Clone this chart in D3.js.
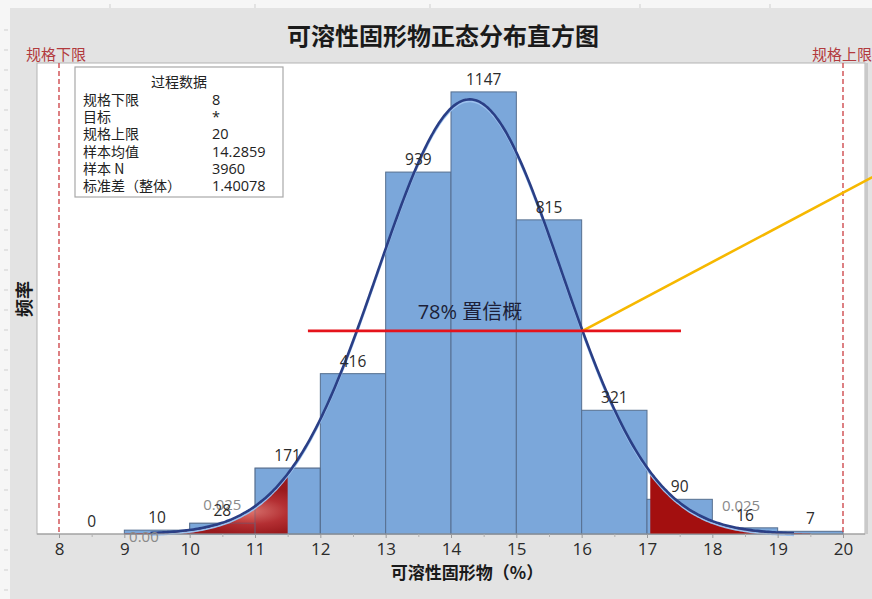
<!DOCTYPE html>
<html>
<head>
<meta charset="utf-8">
<script src="https://cdn.jsdelivr.net/npm/d3@7"></script>
<style>
  html, body { margin: 0; padding: 0; background: #f6f6f6; }
  svg { display: block; font-family: "Open Sans", "Noto Sans CJK SC", sans-serif; }
</style>
</head>
<body>
<svg id="chart" width="872" height="599"></svg>
<script>
// Histogram bins (lower edge, width 1) and their counts
const binStarts = [8, 9, 10, 11, 12, 13, 14, 15, 16, 17, 18, 19];
const counts    = [0, 10, 28, 171, 416, 939, 1147, 815, 321, 90, 16, 7];
const xTicks    = [8, 9, 10, 11, 12, 13, 14, 15, 16, 17, 18, 19, 20];

// Process data summary
const statLabels = ["规格下限", "目标", "规格上限", "样本均值", "样本 N", "标准差（整体）"];
const statValues = ["8", "*", "20", "14.2859", "3960", "1.40078"];

// Spec limits and fitted normal parameters
const specLimits = [8, 20];
const specNames  = ["规格下限", "规格上限"];
const mean = 14.2859, sd = 1.40078, sampleN = 3960, binWidth = 1;

// Tail regions shaded red, fitted curve extent
const leftTail  = [9.0, 11.5];
const rightTail = [17.05, 19.5];
const curveRange = [9.4, 19.25];

// Confidence band marker
const bandLevel = 527;            // count level of the horizontal marker
const bandExtent = [11.81, 17.52];
const bandText = "78% 置信概";
const pointerEnd = [20.45, 926];  // end of the yellow pointer line

// Small tail probability labels (x value, lift above baseline in px)
const tailNotes = [
  { x: 10.5,  lift: 24, text: "0.025" },
  { x: 9.3,   lift: -8, text: "0.00" },
  { x: 18.44, lift: 23, text: "0.025" }
];

const svg = d3.select("#chart");
const W = 872, H = 599;
const plot = { left: 37, top: 63, right: 865, bottom: 534 };

const x = d3.scaleLinear().domain([8, 20]).range([59, 843]);
const y = d3.scaleLinear().domain([0, 1222]).range([plot.bottom, plot.top]);

// Backdrop panels
svg.append("rect").attr("x", 10).attr("y", 8).attr("width", W - 10).attr("height", H - 8).attr("fill", "#e3e3e3");
svg.append("g").selectAll("line").data(d3.range(30, H, 20)).join("line")
  .attr("x1", 4).attr("x2", 8).attr("y1", d => d).attr("y2", d => d)
  .attr("stroke", "#cfcfcf");
svg.append("g").selectAll("line").data([110, 255, 430, 640, 770]).join("line")
  .attr("x1", d => d).attr("x2", d => d).attr("y1", 4).attr("y2", 8)
  .attr("stroke", "#cfcfcf");

svg.append("rect")
  .attr("x", plot.left).attr("y", plot.top)
  .attr("width", plot.right - plot.left).attr("height", plot.bottom - plot.top)
  .attr("fill", "#ffffff").attr("stroke", "#b4b4b4").attr("stroke-width", 1);
svg.append("line").attr("x1", plot.right + 1.5).attr("x2", plot.right + 1.5)
  .attr("y1", plot.top).attr("y2", plot.bottom).attr("stroke", "#c9c9c9").attr("stroke-width", 3);

// Title
svg.append("text").attr("x", 443).attr("y", 45).attr("text-anchor", "middle")
  .attr("font-family", "Noto Sans CJK SC").attr("font-weight", "bold")
  .attr("font-size", 24).attr("fill", "#1a1a1a").text("可溶性固形物正态分布直方图");

// Bars
const bars = binStarts.map((s, i) => ({ x0: s, x1: s + binWidth, n: counts[i] }));
svg.append("g").selectAll("rect").data(bars.filter(d => d.n > 0)).join("rect")
  .attr("x", d => x(d.x0)).attr("width", d => x(d.x1) - x(d.x0))
  .attr("y", d => y(d.n)).attr("height", d => y(0) - y(d.n))
  .attr("fill", "#7ba7da").attr("stroke", "#566f8f").attr("stroke-width", 1);

// Normal curve scaled to counts
const scaleK = sampleN * binWidth / (sd * Math.sqrt(2 * Math.PI));
const pdf = v => scaleK * Math.exp(-0.5 * ((v - mean) / sd) ** 2);
const sample = (a, b, n) => d3.range(n + 1).map(i => a + (b - a) * i / n);

// Tail shading
const defs = svg.append("defs");
const grad = defs.append("radialGradient").attr("id", "leftTailFill")
  .attr("cx", "0.78").attr("cy", "0.62").attr("r", "0.4");
grad.append("stop").attr("offset", "0%").attr("stop-color", "#dc6a62");
grad.append("stop").attr("offset", "55%").attr("stop-color", "#b82626");
grad.append("stop").attr("offset", "100%").attr("stop-color", "#9c0f0f");

const area = d3.area().x(d => x(d)).y0(y(0)).y1(d => y(pdf(d))).curve(d3.curveBasis);
svg.append("path").datum(sample(leftTail[0], leftTail[1], 80))
  .attr("d", area).attr("fill", "url(#leftTailFill)").attr("opacity", 0.93);
svg.append("path").datum(sample(rightTail[0], rightTail[1], 80))
  .attr("d", area).attr("fill", "#a30f0f");

// Faint bar outlines over the shading
svg.append("g").selectAll("rect").data(bars.filter(d => d.x0 >= 10 && d.x0 <= 11)).join("rect")
  .attr("x", d => x(d.x0)).attr("width", d => x(d.x1) - x(d.x0))
  .attr("y", d => y(d.n)).attr("height", d => y(0) - y(d.n))
  .attr("fill", "none").attr("stroke", "#566f8f").attr("stroke-opacity", 0.45);

const line = d3.line().x(d => x(d)).y(d => y(pdf(d))).curve(d3.curveBasis);
const curvePts = sample(curveRange[0], curveRange[1], 300);
svg.append("path").datum(curvePts).attr("d", line)
  .attr("transform", "translate(0,2)")
  .attr("fill", "none").attr("stroke", "#9cc1ee").attr("stroke-width", 2);
svg.append("path").datum(curvePts).attr("d", line)
  .attr("fill", "none").attr("stroke", "#2a3f86").attr("stroke-width", 2.6);

// Spec limit lines
svg.append("g").selectAll("line").data(specLimits).join("line")
  .attr("x1", d => x(d)).attr("x2", d => x(d))
  .attr("y1", plot.top).attr("y2", plot.bottom)
  .attr("stroke", "#cf4a4f").attr("stroke-width", 1.4).attr("stroke-dasharray", "5,3");
svg.append("g").selectAll("text").data(specLimits).join("text")
  .attr("x", (d, i) => x(d) + (i === 0 ? -3 : -1)).attr("y", 60)
  .attr("text-anchor", "middle").attr("font-family", "Noto Sans CJK SC")
  .attr("font-size", 15).attr("fill", "#b23a3d")
  .text((d, i) => specNames[i]);

// Baseline and axis
svg.append("line").attr("x1", plot.left).attr("x2", plot.right)
  .attr("y1", plot.bottom).attr("y2", plot.bottom).attr("stroke", "#9a9a9a");
const xAxis = d3.axisBottom(x).tickValues(xTicks).tickFormat(d3.format("d"))
  .tickSize(4).tickPadding(5).tickSizeOuter(0);
const gx = svg.append("g").attr("transform", `translate(0,${plot.bottom})`).call(xAxis);
gx.select(".domain").remove();
gx.selectAll(".tick line").attr("stroke", "#9a9a9a");
gx.selectAll(".tick text").attr("font-size", 17).attr("fill", "#2b2b2b")
  .attr("font-family", "Open Sans");
svg.append("g").attr("transform", `translate(0,${plot.bottom})`)
  .call(d3.axisBottom(x).tickValues(xTicks.slice(0, -1).map(d => d + 0.5)).tickSize(3).tickFormat(""))
  .call(g => g.select(".domain").remove())
  .selectAll(".tick line").attr("stroke", "#b0b0b0");

// Axis titles
svg.append("text").attr("x", 467).attr("y", 579).attr("text-anchor", "middle")
  .attr("font-family", "Noto Sans CJK SC").attr("font-weight", "bold")
  .attr("font-size", 17).attr("fill", "#1a1a1a").text("可溶性固形物（%）");
svg.append("text").attr("transform", "translate(31,299) rotate(-90)")
  .attr("text-anchor", "middle").attr("font-family", "Noto Sans CJK SC")
  .attr("font-weight", "bold").attr("font-size", 18).attr("fill", "#1a1a1a").text("频率");

// Tail probability notes
svg.append("g").selectAll("text").data(tailNotes).join("text")
  .attr("x", d => x(d.x)).attr("y", d => y(0) - d.lift)
  .attr("text-anchor", "middle").attr("font-size", 15).attr("fill", "#8a8a8a")
  .attr("font-family", "Open Sans").text(d => d.text);

// Count labels
svg.append("g").selectAll("text").data(bars).join("text")
  .attr("x", d => x(d.x0 + binWidth / 2)).attr("y", d => y(d.n) - 7)
  .attr("text-anchor", "middle").attr("font-size", 15.5).attr("fill", "#2b2b2b")
  .attr("font-family", "Open Sans").text(d => d.n);

// Confidence band marker and pointer
const crossX = mean + sd * Math.sqrt(-2 * Math.log(bandLevel / scaleK));
svg.append("line").attr("x1", x(crossX)).attr("y1", y(bandLevel))
  .attr("x2", x(pointerEnd[0])).attr("y2", y(pointerEnd[1]))
  .attr("stroke", "#f6b800").attr("stroke-width", 2.6);
svg.append("line").attr("x1", x(bandExtent[0])).attr("x2", x(bandExtent[1]))
  .attr("y1", y(bandLevel)).attr("y2", y(bandLevel))
  .attr("stroke", "#e5131b").attr("stroke-width", 2.6);
svg.append("text").attr("x", 470).attr("y", 319).attr("text-anchor", "middle")
  .attr("font-size", 20).attr("fill", "#1c1f38").attr("font-family", "Open Sans, Noto Sans CJK SC")
  .text(bandText);

// Process data box
const box = svg.append("g").attr("transform", "translate(75,67)");
box.append("rect").attr("width", 208).attr("height", 130)
  .attr("fill", "#ffffff").attr("stroke", "#a8a8a8").attr("stroke-width", 1.2);
box.append("text").attr("x", 104).attr("y", 20).attr("text-anchor", "middle")
  .attr("font-size", 14).attr("fill", "#222").attr("font-family", "Noto Sans CJK SC").text("过程数据");
box.append("g").selectAll("text").data(statLabels).join("text")
  .attr("x", 8).attr("y", (d, i) => 38 + i * 17.2)
  .attr("font-size", 14).attr("fill", "#222").attr("font-family", "Noto Sans CJK SC").text(d => d);
box.append("g").selectAll("text").data(statValues).join("text")
  .attr("x", 137).attr("y", (d, i) => 38 + i * 17.2)
  .attr("font-size", 14.5).attr("fill", "#222").attr("font-family", "Open Sans").text(d => d);
</script>
</body>
</html>
